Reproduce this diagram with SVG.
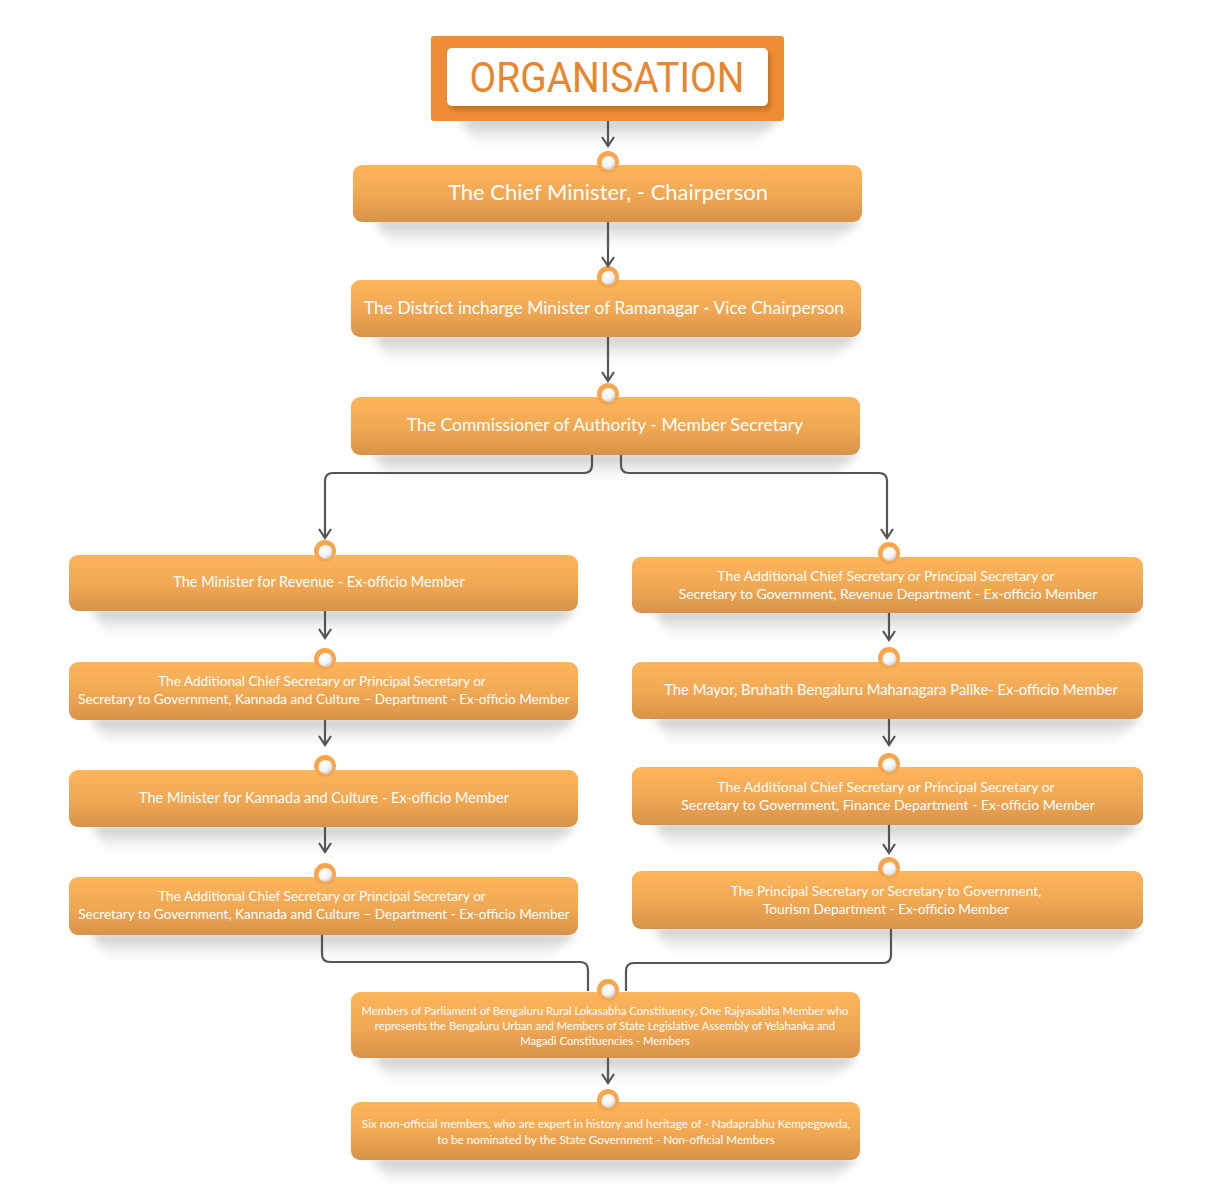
<svg xmlns="http://www.w3.org/2000/svg" width="1212" height="1199" viewBox="0 0 1212 1199">
<defs>
<linearGradient id="boxg" x1="0" y1="0" x2="0" y2="1">
<stop offset="0" stop-color="#fdb55c"/>
<stop offset="0.55" stop-color="#f0a753"/>
<stop offset="1" stop-color="#d8934a"/>
</linearGradient>
<linearGradient id="shg" x1="0" y1="0" x2="0" y2="1">
<stop offset="0" stop-color="#b8b8b8" stop-opacity="0.95"/>
<stop offset="1" stop-color="#ffffff" stop-opacity="0"/>
</linearGradient>
<radialGradient id="knob" cx="0.4" cy="0.35" r="0.7">
<stop offset="0" stop-color="#ffffff"/>
<stop offset="0.6" stop-color="#f2f2f2"/>
<stop offset="1" stop-color="#c4c4c4"/>
</radialGradient>
<filter id="blur" x="-20%" y="-50%" width="140%" height="200%">
<feGaussianBlur stdDeviation="5"/>
</filter>
<filter id="iblur" x="-20%" y="-50%" width="140%" height="200%">
<feGaussianBlur stdDeviation="2.5"/>
</filter>
<marker id="arr" viewBox="0 0 12 14" refX="10.5" refY="7" markerWidth="12" markerHeight="14" markerUnits="userSpaceOnUse" orient="auto">
<path d="M1.5,1 L10.5,7 L1.5,13" fill="none" stroke="#555555" stroke-width="2.2"/>
</marker>
<g id="ring">
<circle r="11" fill="#f8a64b"/>
<circle r="7" cx="0.5" cy="1" fill="url(#knob)"/>
</g>
</defs>
<style>
.box{fill:url(#boxg)}
.sh{fill:url(#shg);filter:url(#blur)}
.t{font-family:"Lato","Noto Sans","Liberation Sans",sans-serif;fill:#ffffff;text-anchor:middle}
.conn{fill:none;stroke:#555555;stroke-width:2.2}
</style>
<rect width="1212" height="1199" fill="#ffffff"/>

<g id="header">
<polygon class="sh" points="460,118 780,118 745,152 480,152"/>
<rect x="431" y="36" width="353" height="85" rx="3" fill="#ee8d35"/>
<rect x="450" y="52" width="321" height="58" rx="5" fill="#c56f22" filter="url(#iblur)"/>
<rect x="447" y="48" width="321" height="58" rx="5" fill="#ffffff"/>
<text x="607" y="92" font-family="Roboto,'DejaVu Sans',sans-serif" font-size="43" fill="#e8862e" text-anchor="middle" textLength="275" lengthAdjust="spacingAndGlyphs">ORGANISATION</text>
</g>

<g id="n-chief">
<polygon class="sh" points="375,220 860,220 825,252 395,252"/>
<rect class="box" x="353" y="165" width="509" height="57" rx="9"/>
<use href="#ring" x="608" y="162"/>
<text class="t" x="608" y="200" font-size="22">The Chief Minister, - Chairperson</text>
</g>

<g id="n-district">
<polygon class="sh" points="373,335 859,335 824,367 393,367"/>
<rect class="box" x="351" y="280" width="510" height="57" rx="9"/>
<use href="#ring" x="608" y="277"/>
<text class="t" x="604" y="314" font-size="17.4">The District incharge Minister of Ramanagar - Vice Chairperson</text>
</g>

<g id="n-commissioner">
<polygon class="sh" points="373,453 858,453 823,485 393,485"/>
<rect class="box" x="351" y="397" width="509" height="58" rx="9"/>
<use href="#ring" x="608" y="394"/>
<text class="t" x="605" y="431" font-size="17.5">The Commissioner of Authority - Member Secretary</text>
</g>

<g id="n-l1">
<polygon class="sh" points="91,609 576,609 541,641 111,641"/>
<rect class="box" x="69" y="555" width="509" height="56" rx="9"/>
<use href="#ring" x="325" y="551"/>
<text class="t" x="319" y="587" font-size="14.5">The Minister for Revenue - Ex-officio Member</text>
</g>

<g id="n-l2">
<polygon class="sh" points="91,718 576,718 541,750 111,750"/>
<rect class="box" x="69" y="662" width="509" height="58" rx="9"/>
<use href="#ring" x="325" y="659"/>
<text class="t" x="322" y="686" font-size="13.6">The Additional Chief Secretary or Principal Secretary or</text>
<text class="t" x="324" y="704" font-size="13.6">Secretary to Government, Kannada and Culture – Department - Ex-officio Member</text>
</g>

<g id="n-l3">
<polygon class="sh" points="91,825 576,825 541,857 111,857"/>
<rect class="box" x="69" y="770" width="509" height="57" rx="9"/>
<use href="#ring" x="325" y="766"/>
<text class="t" x="324" y="803" font-size="14.5">The Minister for Kannada and Culture - Ex-officio Member</text>
</g>

<g id="n-l4">
<polygon class="sh" points="91,933 576,933 541,965 111,965"/>
<rect class="box" x="69" y="877" width="509" height="58" rx="9"/>
<use href="#ring" x="325" y="874"/>
<text class="t" x="322" y="901" font-size="13.6">The Additional Chief Secretary or Principal Secretary or</text>
<text class="t" x="324" y="919" font-size="13.6">Secretary to Government, Kannada and Culture – Department - Ex-officio Member</text>
</g>

<g id="n-r1">
<polygon class="sh" points="654,611 1141,611 1106,643 674,643"/>
<rect class="box" x="632" y="557" width="511" height="56" rx="9"/>
<use href="#ring" x="889" y="553"/>
<text class="t" x="886" y="581" font-size="14">The Additional Chief Secretary or Principal Secretary or</text>
<text class="t" x="888" y="599" font-size="14">Secretary to Government, Revenue Department - Ex-officio Member</text>
</g>

<g id="n-r2">
<polygon class="sh" points="654,717 1141,717 1106,749 674,749"/>
<rect class="box" x="632" y="662" width="511" height="57" rx="9"/>
<use href="#ring" x="889" y="658"/>
<text class="t" x="891" y="695" font-size="14.8">The Mayor, Bruhath Bengaluru Mahanagara Palike- Ex-officio Member</text>
</g>

<g id="n-r3">
<polygon class="sh" points="654,823 1141,823 1106,855 674,855"/>
<rect class="box" x="632" y="767" width="511" height="58" rx="9"/>
<use href="#ring" x="889" y="764"/>
<text class="t" x="886" y="792" font-size="14">The Additional Chief Secretary or Principal Secretary or</text>
<text class="t" x="888" y="810" font-size="14">Secretary to Government, Finance Department - Ex-officio Member</text>
</g>

<g id="n-r4">
<polygon class="sh" points="654,927 1141,927 1106,959 674,959"/>
<rect class="box" x="632" y="871" width="511" height="58" rx="9"/>
<use href="#ring" x="889" y="868"/>
<text class="t" x="886" y="896" font-size="13.65">The Principal Secretary or Secretary to Government,</text>
<text class="t" x="886" y="914" font-size="13.65">Tourism Department - Ex-officio Member</text>
</g>

<g id="n-members">
<polygon class="sh" points="373,1056 858,1056 823,1088 393,1088"/>
<rect class="box" x="351" y="992" width="509" height="66" rx="9"/>
<use href="#ring" x="608" y="990"/>
<text class="t" x="605" y="1015" font-size="11.3">Members of Parliament of Bengaluru Rural Lokasabha Constituency,  One Rajyasabha Member who</text>
<text class="t" x="605" y="1030" font-size="11.3">represents the Bengaluru Urban and Members of State Legislative Assembly of Yelahanka and</text>
<text class="t" x="605" y="1045" font-size="11.3">Magadi Constituencies - Members</text>
</g>

<g id="n-six">
<polygon class="sh" points="373,1158 858,1158 823,1190 393,1190"/>
<rect class="box" x="351" y="1102" width="509" height="58" rx="9"/>
<use href="#ring" x="608" y="1100"/>
<text class="t" x="606" y="1128" font-size="11.7">Six non-official members, who are expert in history and heritage of - Nadaprabhu Kempegowda,</text>
<text class="t" x="606" y="1144" font-size="11.7">to be nominated by the State Government - Non-official Members</text>
</g>

<g id="connectors">
<path class="conn" d="M608,121 V146" marker-end="url(#arr)"/>
<path class="conn" d="M608,222 V266" marker-end="url(#arr)"/>
<path class="conn" d="M608,337 V381" marker-end="url(#arr)"/>
<path class="conn" d="M592,455 V465 Q592,473 584,473 H333 Q325,473 325,481 V538" marker-end="url(#arr)"/>
<path class="conn" d="M621,455 V465 Q621,473 629,473 H879 Q887,473 887,481 V538" marker-end="url(#arr)"/>
<path class="conn" d="M325,611 V638" marker-end="url(#arr)"/>
<path class="conn" d="M325,720 V745" marker-end="url(#arr)"/>
<path class="conn" d="M325,827 V852" marker-end="url(#arr)"/>
<path class="conn" d="M889,613 V640" marker-end="url(#arr)"/>
<path class="conn" d="M889,719 V745" marker-end="url(#arr)"/>
<path class="conn" d="M889,825 V853" marker-end="url(#arr)"/>
<path class="conn" d="M322,935 V954 Q322,962 330,962 H580 Q588,962 588,970 V991"/>
<path class="conn" d="M891,929 V955 Q891,963 883,963 H634 Q626,963 626,971 V991"/>
<path class="conn" d="M608,1058 V1083" marker-end="url(#arr)"/>
</g>
</svg>
